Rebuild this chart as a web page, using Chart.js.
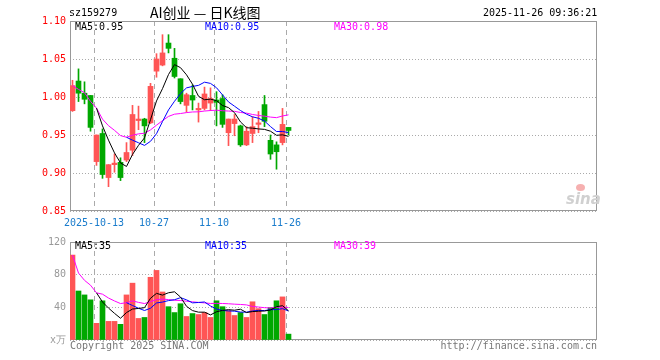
<!DOCTYPE html>
<html>
<head>
<meta charset="utf-8">
<script src="https://cdn.jsdelivr.net/npm/chart.js@4.4.0/dist/chart.umd.min.js"></script>
<style>
    body { margin: 0; width: 660px; height: 360px; position: relative; background: #fff; overflow: hidden;
           font-family: "DejaVu Sans Mono", monospace; font-size: 10px; color: #000; }
    canvas { position: absolute; left: 0; }
    .txt { position: absolute; white-space: nowrap; line-height: 12px; z-index: 2; }
</style>
</head>
<body>
<div class="txt" style="left:69px;top:7px;">sz159279</div>
<div class="txt" style="left:150px;top:3px;font-family:'Noto Sans CJK SC';font-size:14px;line-height:18px;">AI创业 — 日K线图</div>
<div class="txt" style="left:483px;top:7px;">2025-11-26 09:36:21</div>

<canvas id="kChart" width="660" height="232" style="top:0"></canvas>
<canvas id="volChart" width="660" height="128" style="top:232px"></canvas>

<div class="txt" style="left:75px;top:21px;">MA5:0.95</div>
<div class="txt" style="left:205px;top:21px;color:#00f;">MA10:0.95</div>
<div class="txt" style="left:334px;top:21px;color:#f0f;">MA30:0.98</div>

<div class="txt" style="left:75px;top:240px;">MA5:35</div>
<div class="txt" style="left:205px;top:240px;color:#00f;">MA10:35</div>
<div class="txt" style="left:334px;top:240px;color:#f0f;">MA30:39</div>

<div class="txt" style="left:70px;top:340px;color:#777;">Copyright 2025 SINA.COM</div>
<div class="txt" style="right:63px;top:340px;color:#777;">http://finance.sina.com.cn</div>

<div class="txt" style="left:566px;top:190px;font-family:'DejaVu Sans';font-size:15px;font-weight:bold;font-style:italic;color:#d0d0d0;line-height:18px;">sina</div>
<div style="position:absolute;left:576px;top:184px;width:9px;height:7px;border-radius:50%;background:#f6b0b0;z-index:2;"></div>

<script>
// données (9-29 -> 11-26)
const opens  = [0.982, 1.021, 1.005, 1.002, 0.915, 0.952, 0.894, 0.911, 0.914, 0.917,
                0.930, 0.969, 0.971, 0.966, 1.034, 1.042, 1.071, 1.051, 1.024, 0.989,
                1.002, 0.983, 0.985, 0.992, 0.996, 0.998, 0.953, 0.965, 0.962, 0.937,
                0.952, 0.964, 0.990, 0.943, 0.937, 0.940, 0.960];
const highs  = [1.022, 1.037, 1.020, 1.002, 0.950, 0.958, 0.911, 0.925, 0.920, 0.940,
                0.989, 0.988, 0.972, 1.018, 1.057, 1.082, 1.082, 1.064, 1.024, 1.005,
                1.016, 0.992, 1.013, 1.012, 1.007, 1.003, 0.971, 0.977, 0.963, 0.961,
                0.974, 0.981, 1.002, 0.950, 0.941, 0.985, 0.960];
const lows   = [0.981, 0.994, 0.991, 0.955, 0.910, 0.893, 0.882, 0.901, 0.890, 0.915,
                0.923, 0.957, 0.940, 0.965, 1.026, 1.041, 1.058, 1.025, 0.991, 0.980,
                0.983, 0.967, 0.983, 0.982, 0.962, 0.960, 0.936, 0.949, 0.935, 0.936,
                0.940, 0.953, 0.961, 0.918, 0.905, 0.937, 0.950];
const closes = [1.015, 1.005, 0.997, 0.960, 0.950, 0.898, 0.911, 0.913, 0.894, 0.927,
                0.977, 0.971, 0.962, 1.014, 1.050, 1.058, 1.064, 1.027, 0.994, 1.003,
                0.996, 0.985, 1.004, 0.998, 0.993, 0.964, 0.971, 0.971, 0.937, 0.955,
                0.961, 0.966, 0.968, 0.925, 0.928, 0.964, 0.956];
// volume en 万
const volumes = [104, 60, 55.2, 49.2, 20.4, 48, 22.8, 22.8, 19.2, 55.2,
                 69.6, 26.4, 27.6, 76.8, 85.2, 58.8, 40.8, 33.6, 44.4, 28.8,
                 32.4, 31.2, 33.6, 27.6, 48, 40.8, 36, 30, 33.6, 27.6,
                 46.8, 38.4, 31.2, 39.6, 48, 52.8, 7.2];

const dateTicks  = [4, 14, 24, 36];
const dateLabels = ['2025-10-13', '10-27', '11-10', '11-26'];
const priceTicks = [0.85, 0.90, 0.95, 1.00, 1.05, 1.10];
const volTicks   = [0, 40, 80, 120];

const RED = '#ff5555';
const GREEN = '#00a800';
const SLOTS = 527 / 6;     // largeur du cadre / pas d'une bougie
const MID = 2.5 / 6;       // centre de la bougie

function movingAvg(arr, n, partial) {
    return arr.map((v, i) => {
        if (i < n - 1 && !partial) return null;
        const s = arr.slice(Math.max(0, i - n + 1), i + 1);
        return s.reduce((a, b) => a + b, 0) / s.length;
    });
}

const colors = closes.map((c, i) => (c >= opens[i] ? RED : GREEN));

function lineSet(values, color) {
    return {
        type: 'line',
        data: values.map((v, i) => ({ x: i + MID, y: v })),
        borderColor: color,
        borderWidth: 1,
        pointRadius: 0,
        tension: 0
    };
}

// cadre gris autour de la zone
const boxBorder = {
    id: 'boxBorder',
    beforeDatasetsDraw(chart) {
        const { ctx, chartArea: a } = chart;
        ctx.save();
        ctx.strokeStyle = '#999';
        ctx.lineWidth = 1;
        ctx.strokeRect(a.left + 0.5, a.top + 0.5, a.right - a.left - 1, a.bottom - a.top - 1);
        ctx.restore();
    }
};

function xScale(showLabels) {
    return {
        type: 'linear',
        min: 0,
        max: SLOTS,
        offset: false,
        afterBuildTicks: (axis) => { axis.ticks = dateTicks.map(v => ({ value: v })); },
        afterFit: (axis) => { axis.height = showLabels ? 21 : 20; },
        grid: { color: '#aaa', drawTicks: false, offset: false },
        border: { display: false, dash: [5, 4] },
        ticks: {
            display: showLabels,
            autoSkip: false,
            maxRotation: 0,
            padding: 6,
            color: '#1a7ccc',
            font: { family: 'DejaVu Sans Mono', size: 10 },
            callback: (v) => dateLabels[dateTicks.indexOf(v)]
        }
    };
}

function yScale(min, max, ticks, color, fmt) {
    return {
        position: 'left',
        min: min,
        max: max,
        afterBuildTicks: (axis) => { axis.ticks = ticks.map(v => ({ value: v })); },
        afterFit: (axis) => { axis.width = 70; },
        grid: { color: '#aaa', drawTicks: false },
        border: { display: false, dash: [1, 2] },
        ticks: {
            padding: 4,
            color: color,
            font: { family: 'DejaVu Sans Mono', size: 10 },
            callback: fmt
        }
    };
}

Chart.defaults.animation = false;
Chart.defaults.events = [];

// graphique K
new Chart(document.getElementById('kChart'), {
    type: 'bar',
    data: {
        datasets: [
            lineSet(movingAvg(closes, 5, false), '#000'),
            lineSet(movingAvg(closes, 10, false), '#00f'),
            lineSet(movingAvg(closes, 30, true), '#f0f'),
            {
                data: opens.map((o, i) => ({ x: i + MID, y: [o, closes[i]] })),
                backgroundColor: colors,
                barThickness: 5,
                minBarLength: 1,
                grouped: false
            },
            {
                data: lows.map((l, i) => ({ x: i + MID, y: [l, highs[i]] })),
                backgroundColor: colors,
                barThickness: 1,
                grouped: false
            }
        ]
    },
    options: {
        responsive: false,
        layout: { padding: { top: 21, right: 63, left: 0, bottom: 0 } },
        plugins: { legend: { display: false }, tooltip: { enabled: false } },
        scales: {
            x: xScale(true),
            y: yScale(0.85, 1.10, priceTicks, '#f00', (v) => v.toFixed(2))
        }
    },
    plugins: [boxBorder]
});

// volume
new Chart(document.getElementById('volChart'), {
    type: 'bar',
    data: {
        datasets: [
            lineSet(movingAvg(volumes, 5, false), '#000'),
            lineSet(movingAvg(volumes, 10, false), '#00f'),
            lineSet(movingAvg(volumes, 30, true), '#f0f'),
            {
                data: volumes.map((v, i) => ({ x: i + MID, y: v })),
                backgroundColor: colors,
                barThickness: 5,
                grouped: false
            }
        ]
    },
    options: {
        responsive: false,
        layout: { padding: { top: 8, right: 63, left: 0, bottom: 0 } },
        plugins: { legend: { display: false }, tooltip: { enabled: false } },
        scales: {
            x: xScale(false),
            y: yScale(0, 120, volTicks, '#999', (v) => (v === 0 ? 'x万' : v))
        }
    },
    plugins: [boxBorder]
});
</script>
</body>
</html>
